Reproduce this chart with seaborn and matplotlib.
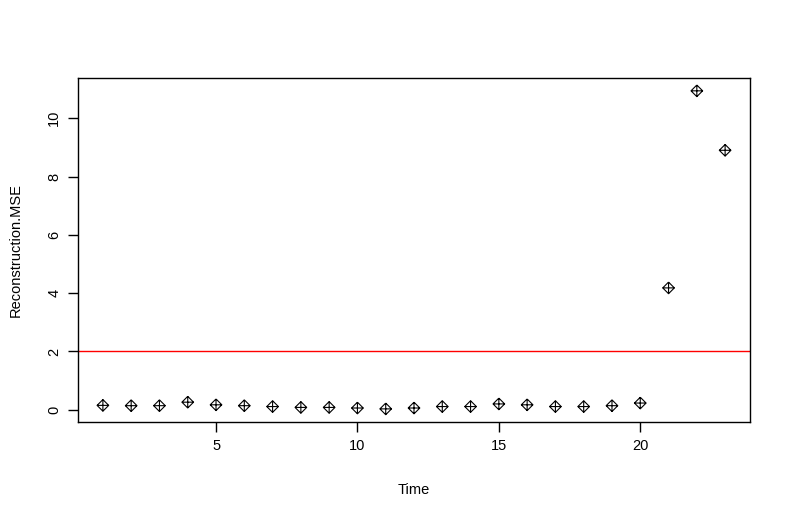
import matplotlib
matplotlib.use("Agg")
import matplotlib.pyplot as plt
import seaborn as sns
import pandas as pd
from matplotlib.path import Path

# valores
time = list(range(1, 24))
mse = [0.15, 0.14, 0.14, 0.26, 0.17, 0.14, 0.11, 0.08, 0.08, 0.06,
       0.03, 0.06, 0.11, 0.11, 0.20, 0.17, 0.11, 0.11, 0.14, 0.23,
       4.18, 10.94, 8.90]
threshold = 2
x_ticks = [5, 10, 15, 20]
y_ticks = [0, 2, 4, 6, 8, 10]

df = pd.DataFrame({"Time": time, "Reconstruction.MSE": mse})

sns.set_style("white")
plt.rcParams["font.family"] = ["Liberation Sans", "DejaVu Sans"]
plt.rcParams["text.color"] = "black"
plt.rcParams["axes.labelcolor"] = "black"
plt.rcParams["xtick.color"] = "black"
plt.rcParams["ytick.color"] = "black"

# marcador tipo pch=9 de R: rombo con cruz
verts = [(0, 1), (1, 0), (0, -1), (-1, 0), (0, 1), (0, 1), (0, -1), (-1, 0), (1, 0)]
codes = [Path.MOVETO, Path.LINETO, Path.LINETO, Path.LINETO, Path.LINETO,
         Path.MOVETO, Path.LINETO, Path.MOVETO, Path.LINETO]
pch9 = Path(verts, codes)

fig = plt.figure(figsize=(7.91, 5.19), dpi=100)
ax = fig.add_axes([78 / 791, 1 - 422 / 519, (750 - 78) / 791, (422 - 78) / 519])

sns.scatterplot(data=df, x="Time", y="Reconstruction.MSE", ax=ax, marker=pch9,
                s=70, facecolors="none", edgecolor="black", linewidth=0.8, zorder=3)
ax.axhline(threshold, color="#ff0000", linewidth=1)

ax.set_xlim(0.12, 23.88)
ax.set_ylim(-0.42, 11.38)
ax.set_xticks(x_ticks)
ax.set_yticks(y_ticks)
ax.set_yticklabels([str(v) for v in y_ticks], rotation=90, va="center")
ax.tick_params(axis="both", direction="out", length=7, width=1, color="black",
               labelsize=10.5, pad=5, left=True, bottom=True)
for sp in ax.spines.values():
    sp.set_color("black")
    sp.set_linewidth(1)
ax.set_xlabel("Time", fontsize=10.5, labelpad=22)
ax.set_ylabel("Reconstruction.MSE", fontsize=10.5, labelpad=18)
ax.grid(False)

fig.savefig("out.png", dpi=100)
